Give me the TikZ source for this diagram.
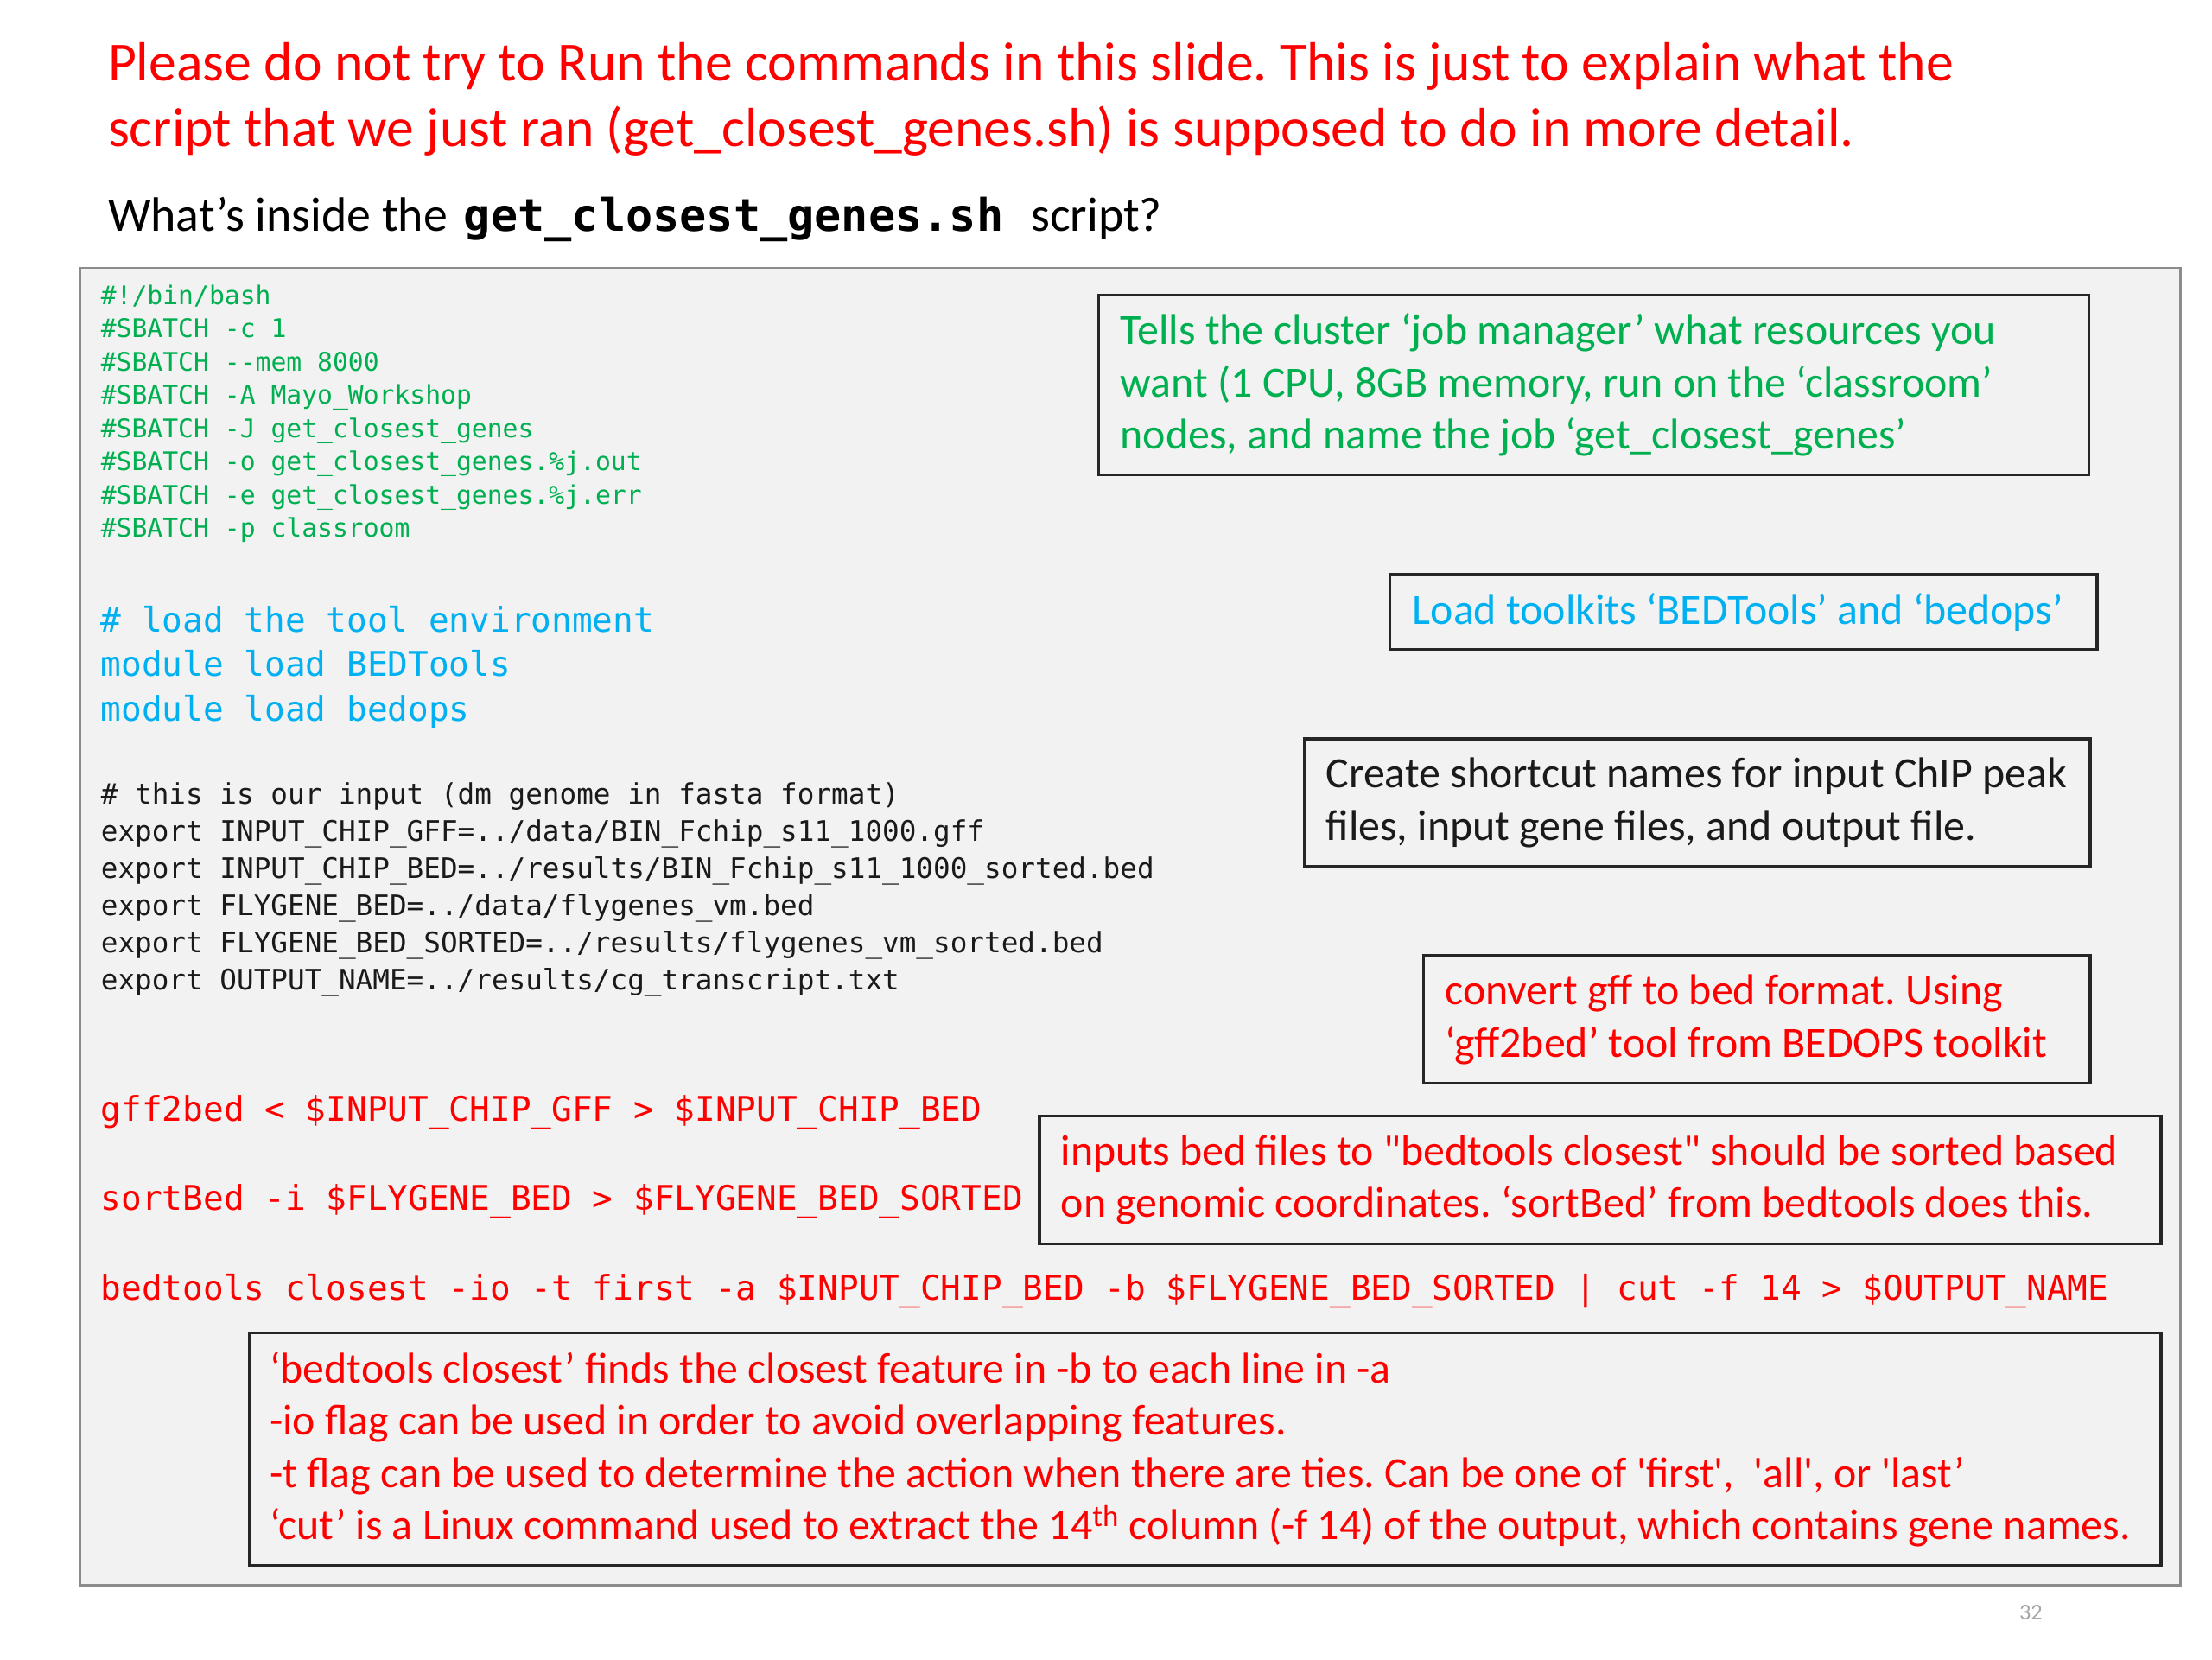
\documentclass[tikz,border=0pt]{standalone}
\usepackage{fontspec}
\newfontfamily\carl{Carlito}
\newfontfamily\code{DejaVu Sans Mono}
\definecolor{slred}{HTML}{FF0000}
\definecolor{slgreen}{HTML}{00B050}
\definecolor{slblue}{HTML}{00B0F0}
\definecolor{boxfill}{HTML}{F2F2F2}
\definecolor{boxedge}{HTML}{8C8C8C}
\definecolor{codeblack}{HTML}{1A1A1A}
\definecolor{pgnum}{HTML}{A6A6A6}
\frenchspacing
\tikzset{
  txt/.style={inner sep=0pt, anchor=base west},
  title/.style={txt, text=slred, font=\carl\fontsize{38.8}{47}\selectfont},
  gcode/.style={txt, text=slgreen, font=\code\fontsize{18.1}{23.5}\selectfont},
  bcode/.style={txt, text=slblue, font=\code\fontsize{24}{31.5}\selectfont},
  kcode/.style={txt, text=codeblack, font=\code\fontsize{19.9}{26}\selectfont},
  rcode/.style={txt, text=slred, font=\code\fontsize{24}{30}\selectfont},
  cbox/.style={draw=black!85, line width=2pt, inner sep=0pt, anchor=north west},
  ctext/.style={inner sep=0pt, anchor=west, align=left, font=\carl\fontsize{30.4}{36.8}\selectfont},
}
\begin{document}
\begin{tikzpicture}[x=1pt,y=-1pt]
\useasboundingbox (0,0) rectangle (1560,1170);
\fill[white] (0,0) rectangle (1560,1170);

% title
\node[title] (t1) at (76,57) {Please do not try to Run the commands in this slide. This is just to explain what the};
\node[title] (t2) at (76,103.4) {script that we just ran (get\_closest\_genes.sh) is supposed to do in more detail.};

% subtitle
\node[txt, font=\carl\fontsize{34}{40}\selectfont] (w1) at (76,163) {What’s inside the};
\node[txt, font=\code\bfseries\fontsize{31.6}{38}\selectfont] (w2) at (327,163) {get\_closest\_genes.sh};
\node[txt, font=\carl\fontsize{34}{40}\selectfont] (w3) at (727,163) {script?};

% code box
\node[draw=boxedge, fill=boxfill, line width=1.5pt, inner sep=0pt, anchor=north west,
      minimum width=1481pt, minimum height=929pt] (codebox) at (56,188) {};

% green SBATCH lines
\node[gcode] (g1) at (71,214.5) {\#!/bin/bash};
\node[gcode] (g2) at (71,238) {\#SBATCH -c 1};
\node[gcode] (g3) at (71,261.5) {\#SBATCH --mem 8000};
\node[gcode] (g4) at (71,285) {\#SBATCH -A Mayo\_Workshop};
\node[gcode] (g5) at (71,308.5) {\#SBATCH -J get\_closest\_genes};
\node[gcode] (g6) at (71,332) {\#SBATCH -o get\_closest\_genes.\%j.out};
\node[gcode] (g7) at (71,355.5) {\#SBATCH -e get\_closest\_genes.\%j.err};
\node[gcode] (g8) at (71,379) {\#SBATCH -p classroom};

% blue module lines
\node[bcode] (b1) at (71,445.5) {\# load the tool environment};
\node[bcode] (b2) at (71,477) {module load BEDTools};
\node[bcode] (b3) at (71,508.5) {module load bedops};

% black export lines
\node[kcode] (k1) at (71,567) {\# this is our input (dm genome in fasta format)};
\node[kcode] (k2) at (71,593.2) {export INPUT\_CHIP\_GFF=../data/BIN\_Fchip\_s11\_1000.gff};
\node[kcode] (k3) at (71,619.4) {export INPUT\_CHIP\_BED=../results/BIN\_Fchip\_s11\_1000\_sorted.bed};
\node[kcode] (k4) at (71,645.6) {export FLYGENE\_BED=../data/flygenes\_vm.bed};
\node[kcode] (k5) at (71,671.8) {export FLYGENE\_BED\_SORTED=../results/flygenes\_vm\_sorted.bed};
\node[kcode] (k6) at (71,698) {export OUTPUT\_NAME=../results/cg\_transcript.txt};

% red command lines
\node[rcode] (r1) at (71,790.5) {gff2bed < \$INPUT\_CHIP\_GFF > \$INPUT\_CHIP\_BED};
\node[rcode] (r2) at (71,853.5) {sortBed -i \$FLYGENE\_BED > \$FLYGENE\_BED\_SORTED};
\node[rcode] (r3) at (71,916.5) {bedtools closest -io -t first -a \$INPUT\_CHIP\_BED -b \$FLYGENE\_BED\_SORTED | cut -f 14 > \$OUTPUT\_NAME};

% comment boxes
\node[cbox, minimum width=698pt, minimum height=127pt] (boxA) at (774,207) {};
\node[ctext, text=slgreen] (txtA) at ([xshift=16pt]boxA.west)
  {Tells the cluster ‘job manager’ what resources you\\want (1 CPU, 8GB memory, run on the ‘classroom’\\nodes, and name the job ‘get\_closest\_genes’};

\node[cbox, minimum width=499pt, minimum height=53pt] (boxB) at (979,404) {};
\node[ctext, text=slblue] (txtB) at ([xshift=17pt]boxB.west)
  {Load toolkits ‘BEDTools’ and ‘bedops’};

\node[cbox, minimum width=554pt, minimum height=90pt] (boxC) at (919,520) {};
\node[ctext, text=codeblack] (txtC) at ([xshift=16pt]boxC.west)
  {Create shortcut names for input ChIP peak\\files, input gene files, and output file.};

\node[cbox, minimum width=470pt, minimum height=90pt] (boxD) at (1003,673) {};
\node[ctext, text=slred] (txtD) at ([xshift=16pt]boxD.west)
  {convert gff to bed format. Using\\‘gff2bed’ tool from BEDOPS toolkit};

\node[cbox, minimum width=791pt, minimum height=90pt] (boxE) at (732,786) {};
\node[ctext, text=slred] (txtE) at ([xshift=16pt]boxE.west)
  {inputs bed files to "bedtools closest" should be sorted based\\on genomic coordinates. ‘sortBed’ from bedtools does this.};

\node[cbox, minimum width=1348pt, minimum height=164pt] (boxF) at (175,939) {};
\node[ctext, text=slred] (txtF) at ([xshift=15pt]boxF.west)
  {‘bedtools closest’ finds the closest feature in -b to each line in -a\\-io flag can be used in order to avoid overlapping features.\\-t flag can be used to determine the action when there are ties. Can be one of 'first',~ 'all', or 'last’\\‘cut’ is a Linux command used to extract the 14\textsuperscript{th} column (-f 14) of the output, which contains gene names.};

% page number
\node[txt, text=pgnum, font=\carl\fontsize{16}{19}\selectfont] (pg) at (1424,1142) {32};
\end{tikzpicture}
\end{document}
